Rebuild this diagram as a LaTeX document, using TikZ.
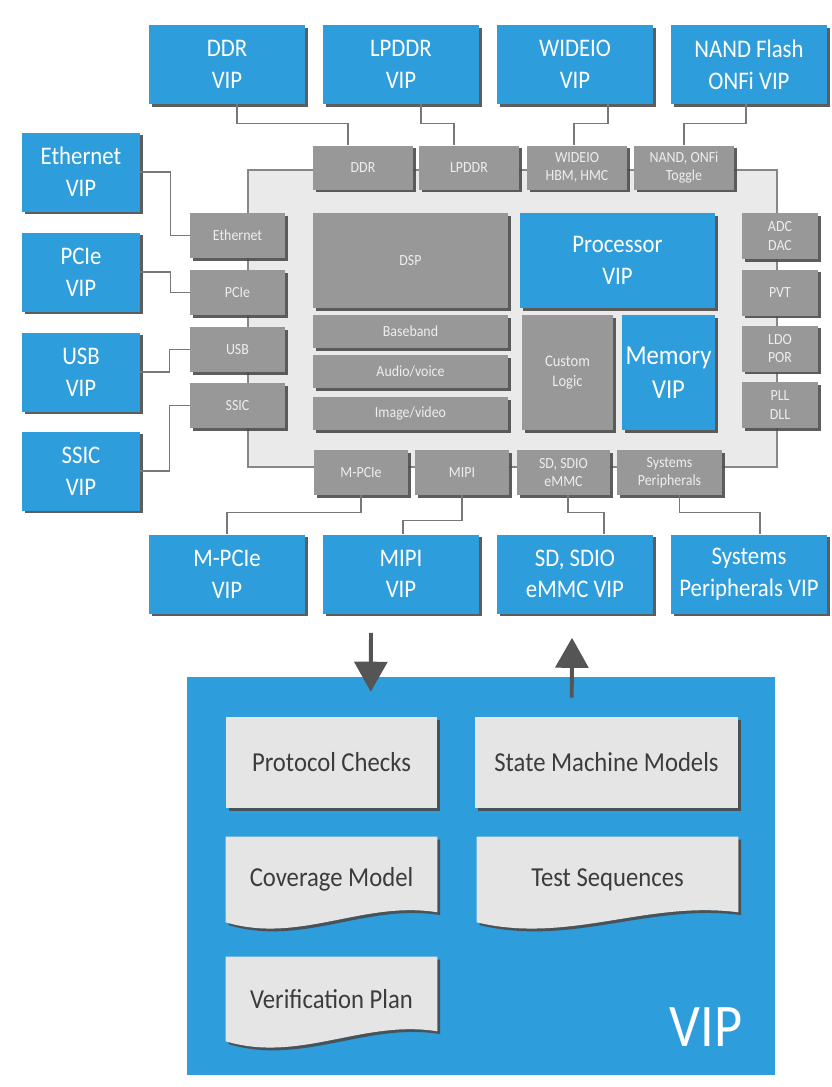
\documentclass[tikz,border=0pt]{standalone}
\usepackage{fontspec}
\setmainfont{Carlito}[FakeStretch=0.9]
\usetikzlibrary{arrows.meta,positioning,calc,shadows,backgrounds}
\definecolor{vipblue}{RGB}{46,157,220}
\definecolor{portgray}{RGB}{152,152,152}
\definecolor{porttext}{RGB}{238,238,238}
\definecolor{chipfill}{RGB}{234,234,234}
\definecolor{chipline}{RGB}{135,135,135}
\definecolor{cardfill}{RGB}{229,229,229}
\definecolor{cardtext}{RGB}{60,60,60}
\definecolor{shadowgray}{RGB}{75,75,75}
\definecolor{wiregray}{RGB}{120,120,120}
\definecolor{arrowgray}{RGB}{85,85,85}
\def\pxl{0.025cm}
% outline of a wavy-bottom document card
\newcommand\docpath[1]{(#1.north west) -- (#1.north east) -- ($(#1.south east)+(0,-10)$)
  .. controls ($(#1.south west)!0.65!(#1.south east)+(0,-22)$) and ($(#1.south west)!0.35!(#1.south east)+(0,22)$) .. (#1.south west) -- cycle}
\begin{document}
\begin{tikzpicture}[x=\pxl,y=-\pxl,>=Latex,
  sz/.style 2 args={minimum width=#1*\pxl,minimum height=#2*\pxl},
  shadowed/.style={drop shadow={shadow xshift=0.07cm,shadow yshift=-0.07cm,fill=shadowgray,opacity=0.9}},
  vip/.style={shadowed,fill=vipblue,text=white,align=center,inner sep=0pt,font=\fontsize{18}{22.5}\selectfont},
  port/.style={shadowed,fill=portgray,text=porttext,align=center,inner sep=0pt,font=\fontsize{11}{13}\selectfont},
  chipbg/.style={fill=chipfill,draw=chipline,line width=0.8pt,inner sep=0pt},
  card/.style={shadowed,fill=cardfill,text=cardtext,inner sep=0pt,font=\fontsize{19.5}{23}\selectfont},
  doctext/.style={text=cardtext,inner sep=0pt,font=\fontsize{19.5}{23}\selectfont},
  bigvip/.style={fill=vipblue,inner sep=0pt},
  wire/.style={draw=wiregray,line width=0.9pt},
  bigarrow/.style={draw=arrowgray,line width=2.8pt,-{Triangle[length=0.75cm,width=0.82cm]}}]
\useasboundingbox (0,0) rectangle (832,1087);
% chip outline
\node[chipbg,sz={529}{297}] (chip) at (512.5,318.5) {};
% VIP models around the chip
\node[vip,sz={156}{79}] (ddrvip)   at (227,64.5) {DDR\\VIP};
\node[vip,sz={156}{79}] (lpddrvip) at (401,64.5) {LPDDR\\VIP};
\node[vip,sz={156}{79}] (widevip)  at (575,64.5) {WIDEIO\\VIP};
\node[vip,sz={156}{79}] (nandvip)  at (749,64.5) {NAND Flash\\ONFi VIP};
\node[vip,sz={156}{79}] (mpcvip)   at (227,574) {M-PCIe\\VIP};
\node[vip,sz={156}{79}] (mipivip)  at (401,574) {MIPI\\VIP};
\node[vip,sz={156}{79}] (sdvip)    at (575,574) {SD, SDIO\\eMMC VIP};
\node[vip,sz={156}{79}] (sysvip)   at (749,574) {Systems\\Peripherals VIP};
\node[vip,sz={118}{79}] (ethvip)   at (81,172) {Ethernet\\VIP};
\node[vip,sz={118}{79}] (pcievip)  at (81,272) {PCIe\\VIP};
\node[vip,sz={118}{79}] (usbvip)   at (81,372) {USB\\VIP};
\node[vip,sz={118}{79}] (ssicvip)  at (81,471) {SSIC\\VIP};
% interface ports
\node[port,sz={100}{44}] (ddrp)   at (363,167.5) {DDR};
\node[port,sz={100}{44}] (lpddrp) at (469,167.5) {LPDDR};
\node[port,sz={100}{44}] (widep)  at (577,167.5) {WIDEIO\\HBM, HMC};
\node[port,sz={100}{44}] (nandp)  at (684,167.5) {NAND, ONFi\\Toggle};
\node[port,sz={95}{45}] (ethp)  at (237.5,235.5) {Ethernet};
\node[port,sz={95}{45}] (pciep) at (237.5,292.5) {PCIe};
\node[port,sz={95}{45}] (usbp)  at (237.5,349.5) {USB};
\node[port,sz={95}{45}] (ssicp) at (237.5,405.5) {SSIC};
\node[port,sz={76}{46}] (adcp) at (780,236) {ADC\\DAC};
\node[port,sz={76}{46}] (pvtp) at (780,292.5) {PVT};
\node[port,sz={76}{46}] (ldop) at (780,348.5) {LDO\\POR};
\node[port,sz={76}{46}] (pllp) at (780,405) {PLL\\DLL};
\node[port,sz={94}{45}]  (mpcp)  at (361,472.5) {M-PCIe};
\node[port,sz={94}{45}]  (mipip) at (462,472.5) {MIPI};
\node[port,sz={93}{45}]  (sdp)   at (563.5,472.5) {SD, SDIO\\eMMC};
\node[port,sz={105}{45}] (sysp)  at (669.5,472.5) {Systems\\Peripherals};
% chip interior
\node[port,sz={195}{95}] (dsp) at (410.5,260.5) {DSP};
\node[port,sz={195}{33}] (bb)  at (410.5,331.5) {Baseband};
\node[port,sz={195}{33}] (av)  at (410.5,371.5) {Audio/voice};
\node[port,sz={195}{33}] (iv)  at (410.5,413.5) {Image/video};
\node[vip,sz={195}{95}] (proc) at (617.5,260.5) {Processor\\VIP};
\node[port,sz={91}{115},font=\fontsize{11.5}{14}\selectfont] (cust) at (567.5,372.5) {Custom\\Logic};
\node[vip,sz={93}{115},font=\fontsize{19.5}{24}\selectfont] (mem) at (668.5,372.5) {Memory\\VIP};
% connectors
\draw[wire] ($(ddrvip.south)+(10,0)$) -- ++(0,19) -| ($(ddrp.north)+(-15,0)$);
\draw[wire] ($(lpddrvip.south)+(20,0)$) -- ++(0,19) -| ($(lpddrp.north)+(-15,0)$);
\draw[wire] ($(widevip.south)+(33,0)$) -- ++(0,19) -| ($(widep.north)+(-3,0)$);
\draw[wire] ($(nandvip.south)+(-3,0)$) -- ++(0,19) -| (nandp.north);
\draw[wire] (ethvip.east)  -| ($(ethp.west)+(-19,0)$) -- (ethp.west);
\draw[wire] (pcievip.east) -| ($(pciep.west)+(-19,0)$) -- (pciep.west);
\draw[wire] (usbvip.east)  -| ($(usbp.west)+(-20,0)$) -- (usbp.west);
\draw[wire] (ssicvip.east) -| ($(ssicp.west)+(-20,0)$) -- (ssicp.west);
\draw[wire] (mpcp.south) -- ++(0,17) -| (mpcvip.north);
\draw[wire] (mipip.south) -- ++(0,25) -| ($(mipivip.north)+(2,0)$);
\draw[wire] ($(sdp.south)+(4.5,0)$) -- ++(0,17) -| ($(sdvip.north)+(29,0)$);
\draw[wire] ($(sysp.south)+(10,0)$) -- ++(0,17) -| ($(sysvip.north)+(11,0)$);
% VIP contents
\node[card,sz={211}{91}] (pc)  at (331.5,762.5) {Protocol Checks};
\node[card,sz={263}{91}] (smm) at (606.5,762.5) {State Machine Models};
\node[doctext,sz={211}{85}] (cov) at (331.5,879.5) {Coverage Model};
\node[doctext,sz={261}{85}] (tst) at (607.5,879.5) {Test Sequences};
\node[doctext,sz={211}{84}] (vpl) at (331.5,999) {Verification Plan};
\node[inner sep=0pt,text=white,font=\fontsize{43}{43}\selectfont] (viplbl) at (706,1027) {VIP};
\begin{scope}[on background layer]
\node[bigvip,sz={588}{398}] (vipbox) at (481,876) {};
\foreach \d in {cov,tst,vpl} \fill[cardfill,shadowed] \docpath{\d};
\end{scope}
\draw[bigarrow] ($(mipivip.south)+(-30,19)$) -- ($(vipbox.north west)+(184,15)$);
\draw[bigarrow] ($(vipbox.north west)+(385,21)$) -- ($(sdvip.south)+(-3,24)$);
\end{tikzpicture}
\end{document}
